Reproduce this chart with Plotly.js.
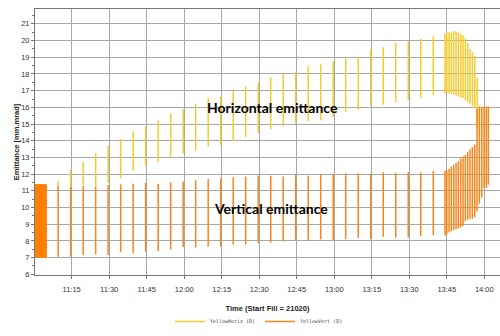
<!DOCTYPE html>
<html>
<head>
<meta charset="utf-8">
<script src="https://cdn.plot.ly/plotly-3.0.1.min.js"></script>
<style>html,body{margin:0;padding:0;background:#fff;}#chart{width:500px;height:336px;}</style>
</head>
<body>
<div id="chart"></div>
<script>
const day = '2014-06-01 ';

// Regular measurements (every 5 minutes)
const regTimes = ['11:09:35','11:14:35','11:19:35','11:24:35','11:29:35','11:34:35','11:39:35','11:44:35','11:49:35','11:54:35',
  '11:59:35','12:04:35','12:09:35','12:14:35','12:19:35','12:24:35','12:29:35','12:34:35','12:39:35','12:44:35',
  '12:49:35','12:54:35','12:59:35','13:04:35','13:09:35','13:14:35','13:19:35','13:24:35','13:29:35','13:34:35','13:39:35'];
const regHorizLo = [11.25,11.25,11.37,11.3,11.45,11.75,12.23,12.51,12.74,13.0,13.23,13.42,13.66,13.75,13.99,14.23,14.46,14.7,14.89,15.03,15.18,15.22,15.43,15.71,15.85,16.1,16.15,16.32,16.44,16.55,16.74];
const regHorizHi = [11.6,12.23,12.74,13.25,13.68,14.11,14.55,14.86,15.22,15.63,15.9,16.21,16.57,16.66,16.96,17.25,17.48,17.8,18.0,18.13,18.46,18.57,18.76,18.95,19.03,19.46,19.6,19.87,19.94,20.09,20.25];
const regVertLo = [7.05,7.05,7.14,7.2,7.16,7.33,7.26,7.35,7.39,7.49,7.64,7.6,7.66,7.66,7.79,7.79,7.86,7.9,7.98,8.07,8.0,8.09,8.03,8.11,8.17,8.13,8.25,8.21,8.21,8.29,8.34];
const regVertHi = [11.27,11.23,11.31,11.27,11.35,11.39,11.43,11.47,11.43,11.52,11.56,11.63,11.71,11.75,11.81,11.86,11.92,11.9,11.86,11.96,11.9,11.98,12.02,12.06,12.06,12.0,12.11,12.08,12.13,12.1,12.19];

// Dense measurements at the end of the fill
const endTimes = ['13:44:18','13:44:59','13:45:54','13:46:49','13:47:47','13:48:42','13:49:37','13:50:35','13:51:30','13:52:25',
  '13:53:22','13:54:17','13:55:13','13:56:10','13:57:05','13:58:01','13:58:58','13:59:53','14:00:48','14:01:36'];
const endHorizLo = [16.83,16.85,16.83,16.8,16.76,16.7,16.65,16.6,16.56,16.42,16.32,16.23,16.07,15.95,14.8,14.3,null,null,null,null];
const endHorizHi = [20.42,20.47,20.5,20.47,20.57,20.55,20.47,20.42,20.32,20.13,19.85,19.5,19.3,19.08,17.75,16.1,null,null,null,null];
const endVertLo = [8.32,8.42,8.51,8.57,8.66,8.7,8.74,8.8,8.89,9.18,9.27,9.33,9.33,9.43,9.77,10.23,10.6,11.18,11.18,11.37];
const endVertHi = [12.19,12.23,12.32,12.46,12.57,12.66,12.78,12.93,13.06,13.16,13.31,13.49,13.62,13.77,15.9,16.0,16.0,16.05,16.05,16.05];

// Continuous vertical-emittance block at the start
const blockTimes = ['11:00:23','11:04:53'];
const blockLo = 7.03;
const blockHi = 11.37;

const seriesNames = ['YellowHoriz (D)','YellowVert (D)'];
const annoTexts = ['Horizontal emittance','Vertical emittance'];

function segs(times, lo, hi) {
  const x = [], y = [];
  for (let i = 0; i < times.length; i++) {
    if (lo[i] == null || hi[i] == null) continue;
    x.push(day + times[i], day + times[i], null);
    y.push(lo[i], hi[i], null);
  }
  return {x, y};
}
const hz = segs(regTimes.concat(endTimes), regHorizLo.concat(endHorizLo), regHorizHi.concat(endHorizHi));
const vt = segs(regTimes.concat(endTimes), regVertLo.concat(endVertLo), regVertHi.concat(endVertHi));

const yellow = '#F3CD2F';
const orange = '#F7861C';

const traces = [
  {x: hz.x, y: hz.y, mode: 'lines', name: seriesNames[0], line: {color: yellow, width: 1.5}, connectgaps: false, hoverinfo: 'skip'},
  {x: [day + blockTimes[0], day + blockTimes[1], day + blockTimes[1], day + blockTimes[0], day + blockTimes[0]],
   y: [blockLo, blockLo, blockHi, blockHi, blockLo], mode: 'lines', fill: 'toself', fillcolor: '#FF7F00',
   line: {color: '#FF7F00', width: 1}, showlegend: false, legendgroup: 'v', hoverinfo: 'skip'},
  {x: vt.x, y: vt.y, mode: 'lines', name: seriesNames[1], legendgroup: 'v', line: {color: orange, width: 1.5}, connectgaps: false, hoverinfo: 'skip'}
];

const layout = {
  width: 500, height: 336,
  margin: {l: 35, r: 0, t: 9, b: 48},
  paper_bgcolor: '#fff', plot_bgcolor: '#fff',
  font: {family: 'Liberation Sans, Arial, sans-serif', color: '#333', size: 7.5},
  showlegend: true,
  legend: {orientation: 'h', x: 0.29, xanchor: 'left', y: -0.176, yanchor: 'middle',
    font: {family: 'DejaVu Sans Mono, monospace', size: 5, color: '#444'}, bgcolor: 'rgba(0,0,0,0)'},
  xaxis: {
    type: 'date', range: [day + '11:00:20', day + '14:06:16'],
    tick0: day + '11:15:00', dtick: 900000, tickformat: '%H:%M',
    showgrid: true, gridcolor: '#a8a8a8', gridwidth: 1,
    showline: true, linecolor: '#777', linewidth: 1, mirror: true,
    ticks: 'outside', ticklen: 3, tickcolor: '#777', ticklabelstandoff: 4,
    tickfont: {size: 7.5, color: '#333', family: 'Liberation Sans, Arial, sans-serif'},
    title: {text: '<b>Time (Start Fill = 21020)</b>', font: {size: 7.5, color: '#222'}, standoff: 12},
    automargin: true,
    zeroline: false
  },
  yaxis: {
    range: [5.96, 21.89], tick0: 0, dtick: 1,
    showgrid: true, gridcolor: '#a8a8a8', gridwidth: 1,
    showline: true, linecolor: '#777', linewidth: 1,
    ticks: 'outside', ticklen: 3, tickcolor: '#777',
    minor: {dtick: 0.5, ticks: 'outside', ticklen: 2, tickcolor: '#777', showgrid: false},
    tickfont: {size: 7.5, color: '#333', family: 'Liberation Sans, Arial, sans-serif'},
    title: {text: '<b>Emittance [mm.mrad]</b>', font: {size: 7.5, color: '#222'}, standoff: 0},
    zeroline: false
  },
  annotations: [
    {x: day + '12:35:23', y: 16.02, xref: 'x', yref: 'y', text: '<b>' + annoTexts[0] + '</b>', showarrow: false,
     font: {family: 'Lato, sans-serif', size: 14, color: '#000'}},
    {x: day + '12:34:47', y: 9.96, xref: 'x', yref: 'y', text: '<b>' + annoTexts[1] + '</b>', showarrow: false,
     font: {family: 'Lato, sans-serif', size: 14, color: '#000'}}
  ]
};

Plotly.newPlot('chart', traces, layout, {displayModeBar: false, staticPlot: true});
</script>
</body>
</html>
